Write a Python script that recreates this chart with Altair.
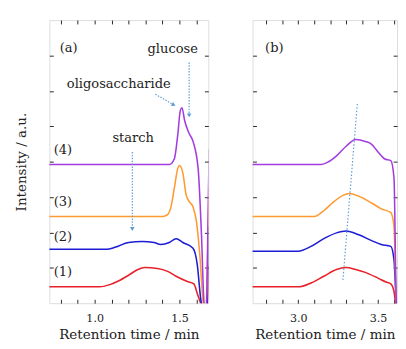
import altair as alt
import pandas as pd

# ---------------- data ----------------
series_names = ["(1)", "(2)", "(3)", "(4)"]
series_colors = ["#e8202a", "#1c1cd6", "#ff9a30", "#a23ce0"]

# panel (a): retention time [min], intensity [a.u. (arbitrary, offset traces)]
a_t_1 = [0.73, 1.03, 1.085, 1.14, 1.2, 1.255, 1.295, 1.37, 1.43, 1.48, 1.54, 1.585, 1.605, 1.625, 1.645, 1.662, 1.675]
a_y_1 = [17, 17, 19, 23, 29, 35, 37, 36, 33, 28, 23, 20, 10, 0, -10, -10, 40]
a_t_2 = [0.73, 1.07, 1.12, 1.2, 1.28, 1.35, 1.39, 1.44, 1.48, 1.52, 1.58, 1.605, 1.625, 1.645, 1.662, 1.675]
a_y_2 = [56, 56, 58, 63, 64, 63, 61, 63, 67, 63, 57, 40, 5, -10, -10, 80]
a_t_3 = [0.73, 1.40, 1.43, 1.45, 1.47, 1.49, 1.50, 1.52, 1.54, 1.56, 1.58, 1.60, 1.62, 1.64, 1.655, 1.665, 1.675]
a_y_3 = [90, 90, 92, 100, 120, 140, 143, 135, 112, 105, 100, 85, 50, 0, -10, 40, 120]
a_t_4 = [0.73, 1.44, 1.47, 1.49, 1.505, 1.515, 1.53, 1.555, 1.58, 1.61, 1.63, 1.645, 1.658, 1.666, 1.675]
a_y_4 = [144, 144, 150, 175, 200, 203, 190, 177, 168, 140, 70, 0, -10, 60, 160]

# panel (b)
b_t_1 = [2.71, 3.0, 3.08, 3.16, 3.24, 3.30, 3.36, 3.42, 3.50, 3.55, 3.58, 3.60, 3.61, 3.63]
b_y_1 = [17, 17, 21, 28, 35, 37, 35, 32, 26, 22, 20, 12, 0, -10]
b_t_2 = [2.71, 3.0, 3.08, 3.16, 3.24, 3.30, 3.38, 3.46, 3.52, 3.58, 3.60, 3.615, 3.63]
b_y_2 = [54, 54, 59, 67, 73, 75, 71, 65, 61, 59, 45, 0, -10]
b_t_3 = [2.71, 3.10, 3.16, 3.22, 3.28, 3.32, 3.38, 3.46, 3.52, 3.58, 3.60, 3.615, 3.63]
b_y_3 = [90, 90, 96, 105, 112, 114, 111, 104, 98, 94, 80, 0, -10]
b_t_4 = [2.71, 3.14, 3.18, 3.24, 3.30, 3.36, 3.42, 3.46, 3.50, 3.54, 3.58, 3.60, 3.615, 3.63]
b_y_4 = [144, 144, 146, 153, 163, 170, 168, 165, 157, 150, 148, 130, 0, -10]

# annotations: text, time, intensity
a_labels = ["(a)", "glucose", "oligosaccharide", "starch", "(4)", "(3)", "(2)", "(1)"]
a_label_t = [0.847, 1.46, 1.142, 1.227, 0.8125, 0.8125, 0.8125, 0.8125]
a_label_y = [265, 264, 227, 171, 159, 105, 69, 32]
b_labels = ["(b)"]
b_label_t = [2.85]
b_label_y = [265]

# arrows: start / end (time, intensity)
a_arrow_t1 = [1.557, 1.222, 1.358]
a_arrow_y1 = [250, 157, 217]
a_arrow_t2 = [1.557, 1.222, 1.466]
a_arrow_y2 = [195, 77, 206]
a_arrow_shape = ["triangle-down", "triangle-down", "triangle-right"]
a_arrow_angle = [0, 0, 28]
b_guide_t = [3.28, 3.37]
b_guide_y = [24, 207]

# axis settings
a_domain = [0.733, 1.670]
b_domain = [2.714, 3.619]
y_domain = [0, 294]
a_ticks = [0.8, 0.9, 1.0, 1.1, 1.2, 1.3, 1.4, 1.5, 1.6]
b_ticks = [2.8, 2.9, 3.0, 3.1, 3.2, 3.3, 3.4, 3.5, 3.6]
a_major = [1.0, 1.5]
b_major = [3.0, 3.5]
y_ticks = [36.75 * k for k in range(1, 8)]

FONT = "DejaVu Serif"
ARROW = "#5b9bd5"


def traces(ts, ys):
    rows = []
    for name, t, y in zip(series_names, ts, ys):
        for ti, yi in zip(t, y):
            rows.append({"series": name, "t": ti, "y": yi})
    return pd.DataFrame(rows)


def label_expr(major):
    cond = " || ".join(f"abs(datum.value - {m}) < 0.001" for m in major)
    return f"({cond}) ? format(datum.value, '.1f') : ''"


def panel(df, domain, ticks, major, width, y_title, labels_df, arrows_df=None, guide_df=None):
    xs = alt.Scale(domain=domain, nice=False, zero=False)
    ys = alt.Scale(domain=y_domain, nice=False, zero=False)
    x_bottom = alt.Axis(values=ticks, labelExpr=label_expr(major), title="Retention time / min",
                        orient="bottom", offset=-4, tickSize=4, domain=False, grid=False,
                        labelPadding=10, titlePadding=4, labelFontSize=11.5, titleFontSize=14,
                        labelFont=FONT, titleFont=FONT, titleFontWeight="normal", tickColor="#222",
                        labelColor="#222", titleColor="#222")
    if y_title:
        y_left = alt.Axis(values=y_ticks, labels=False, orient="left", offset=-4, tickSize=4, domain=False,
                          grid=False, title=y_title, titlePadding=21,
                          titleFontSize=14, titleFont=FONT, titleFontWeight="normal", tickColor="#222",
                          titleColor="#222")
    else:
        y_left = alt.Axis(values=y_ticks, labels=False, orient="left", offset=-4, tickSize=4,
                          domain=False, grid=False, title=None, tickColor="#222")
    X = lambda f: alt.X(f, scale=xs, axis=x_bottom)
    Y = lambda f: alt.Y(f, scale=ys, axis=y_left)
    lines = alt.Chart(df).mark_line(strokeWidth=1.6, clip=True, interpolate="monotone").encode(
        x=X("t:Q"), y=Y("y:Q"),
        color=alt.Color("series:N", scale=alt.Scale(domain=series_names, range=series_colors), legend=None),
        detail="series:N",
    )
    inner = [lines]
    if arrows_df is not None:
        inner.append(alt.Chart(arrows_df).mark_rule(color=ARROW, strokeWidth=1.2, strokeDash=[1.5, 1.5]).encode(
            x=X("t1:Q"), y=Y("y1:Q"), x2="t2:Q", y2="y2:Q"))
        inner.append(alt.Chart(arrows_df).mark_point(filled=True, color=ARROW, size=22, opacity=1).encode(
            x=X("t2:Q"), y=Y("y2:Q"),
            shape=alt.Shape("shape:N", scale=None), angle=alt.Angle("angle:Q", scale=None)))
    if guide_df is not None:
        inner.append(alt.Chart(guide_df).mark_line(color=ARROW, strokeWidth=1.2, strokeDash=[1.5, 2]).encode(
            x=X("t:Q"), y=Y("y:Q")))
    x_top = alt.Axis(values=ticks, labels=False, orient="top", offset=-4, tickSize=4, domain=False,
                     grid=False, title=None, tickColor="#222")
    y_right = alt.Axis(values=y_ticks, labels=False, orient="right", offset=-4, tickSize=4, domain=False,
                       grid=False, title=None, tickColor="#222")
    texts = alt.Chart(labels_df).mark_text(font=FONT, fontSize=13.5, color="#222", align="center",
                                           baseline="middle").encode(
        x=alt.X("t:Q", scale=xs, axis=x_top),
        y=alt.Y("y:Q", scale=ys, axis=y_right),
        text="label:N",
    )
    return alt.layer(alt.layer(*inner), texts).resolve_axis(x="independent", y="independent").properties(
        width=width, height=294)


df_a = traces([a_t_1, a_t_2, a_t_3, a_t_4], [a_y_1, a_y_2, a_y_3, a_y_4])
df_b = traces([b_t_1, b_t_2, b_t_3, b_t_4], [b_y_1, b_y_2, b_y_3, b_y_4])
lab_a = pd.DataFrame({"label": a_labels, "t": a_label_t, "y": a_label_y})
lab_b = pd.DataFrame({"label": b_labels, "t": b_label_t, "y": b_label_y})
arr_a = pd.DataFrame({"t1": a_arrow_t1, "y1": a_arrow_y1, "t2": a_arrow_t2, "y2": a_arrow_y2,
                      "shape": a_arrow_shape, "angle": a_arrow_angle})
guide_b = pd.DataFrame({"t": b_guide_t, "y": b_guide_y})

pa = panel(df_a, a_domain, a_ticks, a_major, 165, "Intensity / a.u.", lab_a, arrows_df=arr_a)
pb = panel(df_b, b_domain, b_ticks, b_major, 150, None, lab_b, guide_df=guide_b)

chart = alt.hconcat(pa, pb, spacing=44).properties(
    padding={"left": 7, "top": 5, "right": 0, "bottom": 0}
).configure_view(stroke="#000", strokeWidth=1.2, strokeDash=[1, 1]).configure(background="white")

chart.save("out.html", embed_options={"renderer": "svg", "actions": False})
